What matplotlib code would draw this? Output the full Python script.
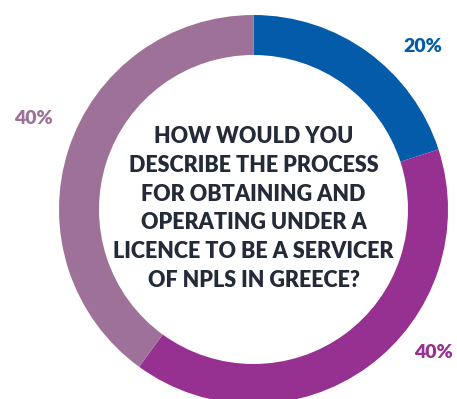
import matplotlib
matplotlib.use("Agg")
import matplotlib.pyplot as plt
from matplotlib import font_manager

# Survey answer shares (clockwise from 12 o'clock)
categories = ["Easy", "Neutral", "Difficult"]
shares = [20, 40, 40]
labels = ["20%", "40%", "40%"]
colors = ["#035BAA", "#963091", "#9E7298"]
question = ("HOW WOULD YOU\nDESCRIBE THE PROCESS\nFOR OBTAINING AND\n"
            "OPERATING UNDER A\nLICENCE TO BE A SERVICER\nOF NPLS IN GREECE?")

lato = sorted({(f.name, f.weight, f.fname) for f in font_manager.fontManager.ttflist
               if "Lato" in f.name}, key=lambda t: str(t[1]))
print(lato)

W, H = 457, 399
fig = plt.figure(figsize=(W / 100, H / 100), dpi=100)
ax = fig.add_axes([0, 0, 1, 1])
ax.set_aspect("equal")
ax.axis("off")

cx, cy = 253.5, H - 209.5
outer_r = 194.5
ring_w = 40

ax.pie(shares, colors=colors, startangle=90, counterclock=False,
       radius=outer_r, center=(cx, cy),
       wedgeprops=dict(width=ring_w, linewidth=0))
ax.set_xlim(0, W)
ax.set_ylim(0, H)

# label anchors for blue, purple, mauve wedges
label_pos = [(423, H - 47), (433, H - 353), (33, H - 119)]
for (x, y), txt, c in zip(label_pos, labels, colors):
    ax.text(x, y, txt, color=c, fontsize=14, fontweight="heavy",
            family="Lato", ha="center", va="center")

ax.text(cx, cy + 1, question, color="#232B38", fontsize=15.5, fontweight="heavy",
        family="Lato", ha="center", va="center", linespacing=1.45)

fig.savefig("out.png", dpi=100)
